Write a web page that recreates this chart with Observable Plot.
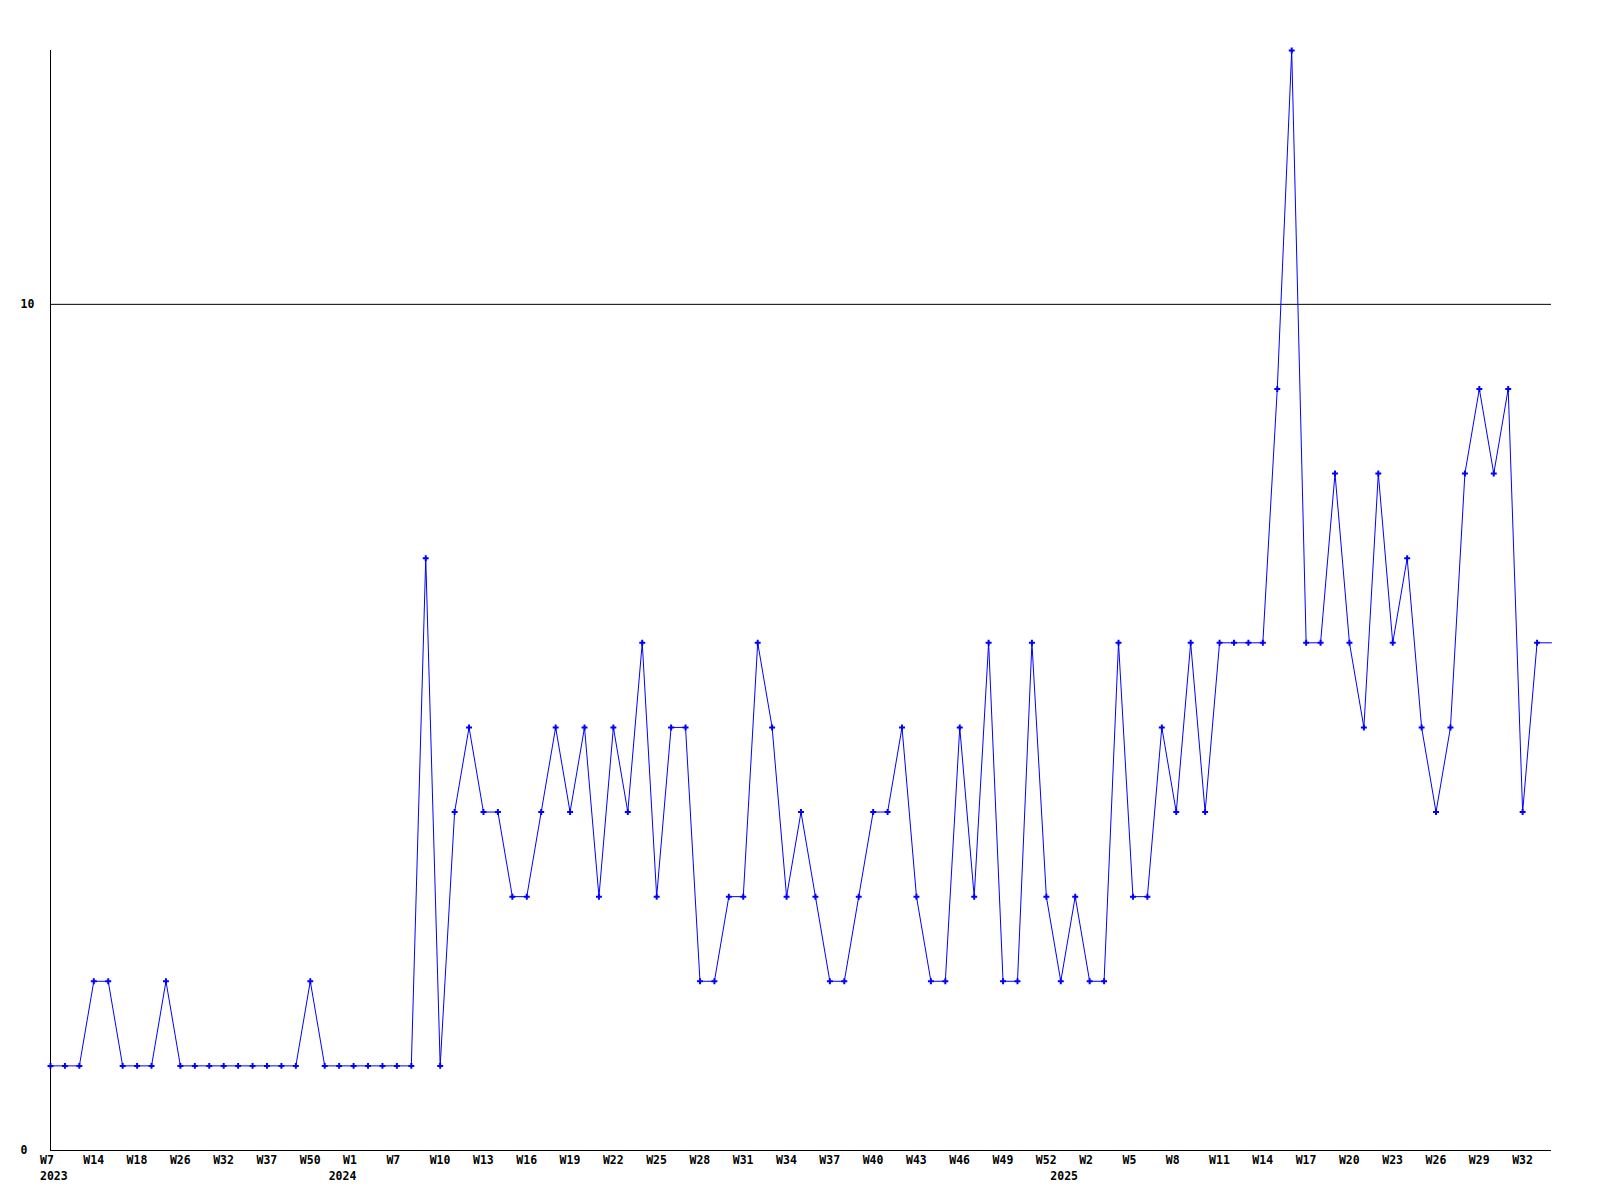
<!DOCTYPE html>
<html>
<head>
<meta charset="utf-8">
<script src="https://cdn.jsdelivr.net/npm/d3@7"></script>
<script src="https://cdn.jsdelivr.net/npm/@observablehq/plot@0.6"></script>
<style>
  html, body { margin: 0; padding: 0; background: #fff; }
  #chart svg { display: block; }
</style>
</head>
<body>
<div id="chart"></div>
<script>
// Weekly values, one per data point (evenly spaced, in order)
const values = [
  1, 1, 1, 2, 2, 1, 1, 1, 2, 1,
  1, 1, 1, 1, 1, 1, 1, 1, 2, 1,
  1, 1, 1, 1, 1, 1, 7, 1, 4, 5,
  4, 4, 3, 3, 4, 5, 4, 5, 3, 5,
  4, 6, 3, 5, 5, 2, 2, 3, 3, 6,
  5, 3, 4, 3, 2, 2, 3, 4, 4, 5,
  3, 2, 2, 5, 3, 6, 2, 2, 6, 3,
  2, 3, 2, 2, 6, 3, 3, 5, 4, 6,
  4, 6, 6, 6, 6, 9, 13, 6, 6, 8,
  6, 5, 8, 6, 7, 5, 4, 5, 8, 9,
  8, 9, 4, 6, 6
];

// Week tick labels, shown on every third data point
const weekTickLabels = [
  "W7", "W14", "W18", "W26", "W32", "W37", "W50", "W1", "W7", "W10",
  "W13", "W16", "W19", "W22", "W25", "W28", "W31", "W34", "W37", "W40",
  "W43", "W46", "W49", "W52", "W2", "W5", "W8", "W11", "W14", "W17",
  "W20", "W23", "W26", "W29", "W32"
];

// Year labels and the data point where each year starts
const yearLabels = ["2023", "2024", "2025"];
const yearStartIndex = [0, 20, 70];

// Y axis tick values
const yTicks = [0, 10];

const tickStep = 3;
const rows = values.map((v, i) => ({i, v}));
const weekTicks = weekTickLabels.map((label, k) => ({label, i: k * tickStep}));
const years = yearLabels.map((label, k) => ({label, i: yearStartIndex[k]}));

const font = {fontFamily: "DejaVu Sans Mono", fontWeight: "bold", fontSize: 11.5};

const chart = Plot.plot({
  width: 1600,
  height: 1200,
  marginLeft: 50,
  marginRight: 49,
  marginTop: 50,
  marginBottom: 50,
  style: {fontFamily: "DejaVu Sans Mono", fontSize: "11.5px", background: "#fff"},
  x: {domain: [0, values.length - 1], axis: null},
  y: {domain: [0, 13], axis: null},
  marks: [
    Plot.ruleY([10], {stroke: "black", strokeWidth: 1}),
    Plot.ruleY([0], {stroke: "black", strokeWidth: 1}),
    Plot.ruleX([0], {stroke: "black", strokeWidth: 1}),
    Plot.line(rows, {x: "i", y: "v", stroke: "#0000ff", strokeWidth: 1}),
    Plot.dot(rows, {
      x: "i", y: "v",
      filter: (d) => d.i < values.length - 1,
      symbol: "cross", r: 2.5, fill: "#0000ff", stroke: "none"
    }),
    Plot.text(yTicks, {
      y: d => d, text: d => String(d),
      frameAnchor: "left", dx: -30, textAnchor: "start",
      fill: "black", ...font
    }),
    Plot.text(weekTicks, {
      x: "i", text: "label",
      frameAnchor: "bottom", dy: 13, dx: -10.5, textAnchor: "start",
      fill: "black", ...font
    }),
    Plot.text(years, {
      x: "i", text: "label",
      frameAnchor: "bottom", dy: 29, dx: -10.5, textAnchor: "start",
      fill: "black", ...font
    })
  ]
});

document.getElementById("chart").appendChild(chart);
</script>
</body>
</html>
